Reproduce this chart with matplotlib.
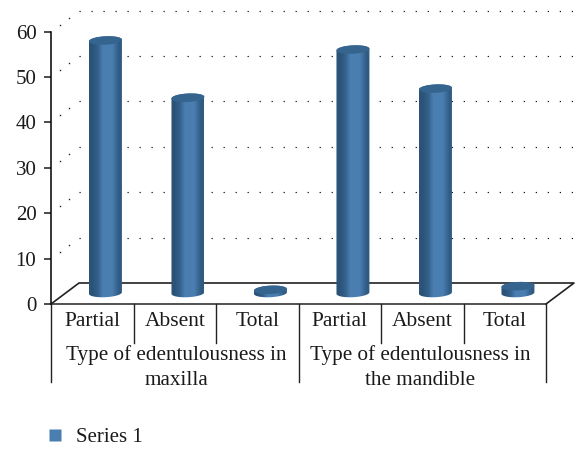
import numpy as np
import matplotlib
matplotlib.use('Agg')
import matplotlib.pyplot as plt
from matplotlib.colors import LinearSegmentedColormap
from matplotlib.lines import Line2D
from matplotlib.patches import PathPatch, Polygon
from matplotlib.path import Path
from matplotlib.transforms import offset_copy

plt.rcParams['font.family'] = ['Liberation Serif', 'DejaVu Serif']

categories = ['Partial', 'Absent', 'Total', 'Partial', 'Absent', 'Total']
groups = ['Type of edentulousness in\nmaxilla', 'Type of edentulousness in\nthe mandible']
values = [55.6, 43.0, 0.7, 53.6, 45.0, 1.5]
yticks = [0, 10, 20, 30, 40, 50, 60]
series_name = 'Series 1'

fig = plt.figure(figsize=(5.75, 4.49), dpi=100)
ax = fig.add_axes([51/575, 145/449, 495/575, 272.5/449])
ax.set_xlim(0, 6)
ax.set_ylim(0, 60)

# pixels per data unit, used for the fake 3d depth
sx = 495/6
sy = 272.5/60
depth_x, depth_y = 28, 21
back = offset_copy(ax.transData, fig=fig, x=depth_x, y=depth_y, units='dots')

# back wall dots
dot = (0, (1, 9.17))
for v in yticks[1:]:
    ax.plot([0, 6], [v, v], transform=back, color='black', lw=0.85, ls=dot,
            dash_capstyle='butt', clip_on=False, zorder=1)
    ax.plot([depth_x/sx*0.66, depth_x/sx*0.33], [v + depth_y/sy*0.66, v + depth_y/sy*0.33],
            ls='none', marker='s', ms=1, mfc='#222222', mec='none', clip_on=False, zorder=1)

# floor
fx, fy = depth_x/sx, depth_y/sy
ax.plot([0, fx, 6 + fx, 6], [0, fy, fy, 0], color='#222222', lw=1.2,
        clip_on=False, zorder=2)

# cylinders
cyl = LinearSegmentedColormap.from_list(
    'cyl', ['#2b5277', '#33608a', '#4a7db0', '#4a7db0', '#2f5a82'])
grad = np.array([[0, 0.22, 0.5, 0.62, 0.8, 1.0]])
base = 11/sy
a, b = 16.5, 4.2
tilt = np.radians(3)


def ellipse(cx, cy, t):
    dx = a*np.cos(t)
    dy = b*np.sin(t)
    return (cx + (dx*np.cos(tilt) - dy*np.sin(tilt))/sx,
            cy + (dx*np.sin(tilt) + dy*np.cos(tilt))/sy)


for i, v in enumerate(values):
    c = i + 0.66
    tx, ty = ellipse(c, base + v, np.linspace(0, np.pi, 40))
    bx, by = ellipse(c, base, np.linspace(np.pi, 2*np.pi, 40))
    body = np.column_stack([np.r_[tx, bx], np.r_[ty, by]])
    patch = Polygon(body, closed=True, fc='none', ec='none', transform=ax.transData)
    ax.add_patch(patch)
    im = ax.imshow(grad, cmap=cyl, vmin=0, vmax=1, aspect='auto', interpolation='bilinear',
                   extent=(c - a/sx, c + a/sx, -2, 62), zorder=3)
    im.set_clip_path(patch)
    ex, ey = ellipse(c, base + v, np.linspace(0, 2*np.pi, 60))
    ax.add_patch(PathPatch(Path(np.column_stack([ex, ey])), fc='#35658f', ec='none',
                           clip_on=False, zorder=4))
ax.set_xlim(0, 6)
ax.set_ylim(0, 60)

# axes
for s in ['top', 'right']:
    ax.spines[s].set_visible(False)
ax.spines['left'].set_linewidth(1.1)
ax.spines['bottom'].set_linewidth(1.1)
ax.spines['bottom'].set_color('#222222')
ax.set_xticks([])
ax.set_yticks(yticks)
ax.tick_params(axis='y', length=5, width=1.1, pad=5.5, labelsize=15, colors='#1a1a1a')
ax.patch.set_visible(False)

# multi level category axis
for x in [1, 2, 4, 5]:
    ax.plot([x, x], [0, -39/sy], color='#222222', lw=1, clip_on=False)
for x in [0, 3, 6]:
    ax.plot([x, x], [0, -78/sy], color='#222222', lw=1, clip_on=False)
for i, name in enumerate(categories):
    ax.text(i + 0.5, -17.5/sy, name, ha='center', va='center', fontsize=15.5,
            color='#1a1a1a')
for i, name in enumerate(groups):
    ax.text(1.52 + 2.95*i, -63.5/sy, name, ha='center', va='center', fontsize=15.2,
            linespacing=1.38, color='#1a1a1a')

handle = Line2D([], [], ls='none', marker='s', ms=8.6, mfc='#4a7db0', mec='none',
                label=series_name)
fig.legend(handles=[handle], loc='center left', bbox_to_anchor=(34/575, 1 - 437/449),
           frameon=False, fontsize=15, handletextpad=0.03, labelcolor='#1a1a1a',
           borderpad=0, borderaxespad=0)

fig.savefig('out.png', dpi=100)
